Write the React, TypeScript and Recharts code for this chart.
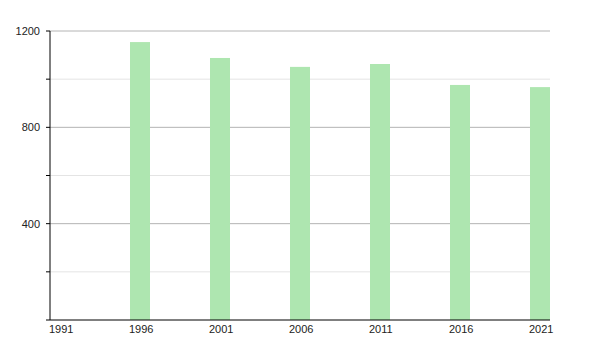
import { BarChart, Bar, XAxis, YAxis, CartesianGrid } from "recharts"

const years = [1996, 2001, 2006, 2011, 2016, 2021]
const population = [1154, 1088, 1051, 1063, 976, 967]
const yearTicks = [1991, 1996, 2001, 2006, 2011, 2016, 2021]
const valueTicks = [0, 200, 400, 600, 800, 1000, 1200]
const labelledValues = [400, 800, 1200]
const minorLines = [200, 600, 1000]
const majorLines = [400, 800, 1200]

const data = years.map((year, i) => ({ year, value: population[i] }))

const font = "'Liberation Sans', Arial, sans-serif"

function YTick(props: any) {
  const { x, y, payload } = props
  if (!labelledValues.includes(payload.value)) return null
  return (
    <text x={x - 4} y={y} dy="0.35em" textAnchor="end" fontSize={11} fontFamily={font} fill="#222">
      {payload.value}
    </text>
  )
}

function XTick(props: any) {
  const { x, y, payload } = props
  return (
    <text x={x - 1} y={y - 3} dy="0.71em" textAnchor="start" fontSize={11} fontFamily={font} fill="#222">
      {payload.value}
    </text>
  )
}

// bars sit to the right of their year tick
function ShiftedBar(props: any) {
  const { x, y, width, height } = props
  return <rect x={x + width / 2} y={y} width={width} height={height} fill="#aee6b0" />
}

export default function App() {
  return (
    <div style={{ position: "absolute", left: 0, top: 0 }}>
      <BarChart width={600} height={350} data={data} margin={{ top: 31, right: 50, left: 0, bottom: 0 }}>
        <CartesianGrid vertical={false} horizontalValues={minorLines} stroke="#e4e4e4" />
        <CartesianGrid vertical={false} horizontalValues={majorLines} stroke="#b4b4b4" />
        <XAxis
          dataKey="year"
          type="number"
          domain={[1991, 2022.25]}
          ticks={yearTicks}
          tickLine={false}
          axisLine={{ stroke: "#000" }}
          tick={<XTick />}
          height={30}
          interval={0}
        />
        <YAxis
          domain={[0, 1200]}
          ticks={valueTicks}
          tickSize={4}
          tickLine={{ stroke: "#000" }}
          axisLine={{ stroke: "#000" }}
          tick={<YTick />}
          width={50}
          interval={0}
        />
        <Bar dataKey="value" barSize={20} shape={<ShiftedBar />} isAnimationActive={false} />
      </BarChart>
    </div>
  )
}
